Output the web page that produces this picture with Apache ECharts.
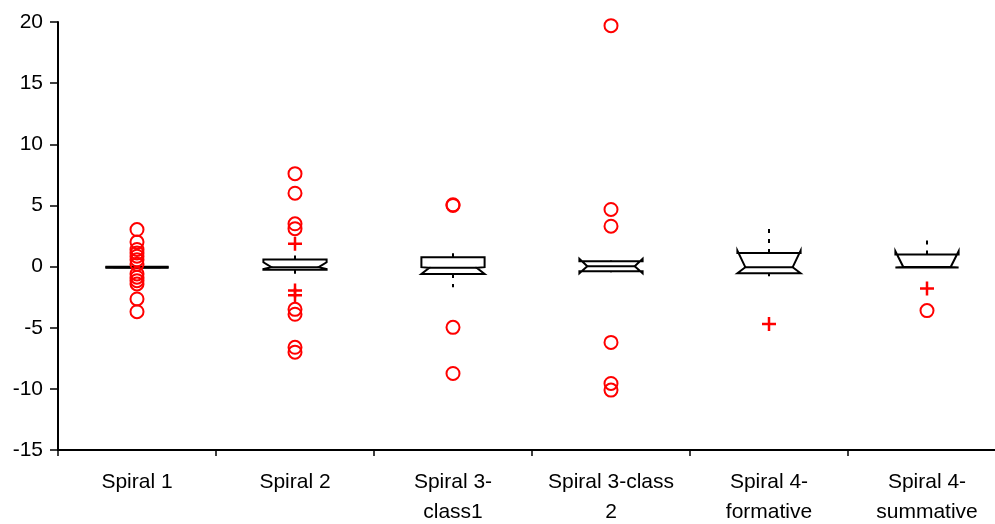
<!DOCTYPE html>
<html>
<head>
<meta charset="utf-8">
<script src="https://cdn.jsdelivr.net/npm/echarts@6/dist/echarts.min.js"></script>
<style>html,body{margin:0;padding:0;background:#fff;}#c{width:995px;height:524px;}</style>
</head>
<body>
<div id="c"></div>
<script>
const categories = ['Spiral 1', 'Spiral 2', 'Spiral 3-\nclass1', 'Spiral 3-class\n2', 'Spiral 4-\nformative', 'Spiral 4-\nsummative'];
const yTicks = [-15, -10, -5, 0, 5, 10, 15, 20];

const whiskerLow  = [-0.05, -0.8, -1.7, -0.47, -0.8, -0.08];
const q1          = [-0.05, -0.25, -0.6, -0.38, -0.55, -0.08];
const notchLow    = [-0.05, -0.2, -0.6, -0.55, -0.55, -0.08];
const median      = [-0.05, -0.05, -0.1, 0.02, -0.05, -0.03];
const notchHigh   = [-0.05, 0.35, -0.05, 0.63, 1.3, 1.25];
const q3          = [-0.05, 0.57, 0.77, 0.43, 1.12, 0.98];
const whiskerHigh = [-0.05, 1.05, 1.1, 0.5, 3.35, 2.25];

const farOutliers = [
  [3.03, 2.0, 1.4, 1.12, 0.85, 0.55, 0.2, -0.6, -0.87, -1.15, -1.42, -2.65, -3.69],
  [7.6, 6.0, 3.5, 3.1, -3.5, -3.9, -6.6, -7.0],
  [5.05, 5.0, -4.97, -8.74],
  [19.7, 4.67, 3.3, -6.2, -9.56, -10.1],
  [],
  [-3.6]
];
const nearOutliers = [
  [],
  [1.86, -1.95, -2.35],
  [],
  [],
  [-4.7],
  [-1.8]
];

const boxData = categories.map((c, i) => [i, whiskerLow[i], q1[i], notchLow[i], median[i], notchHigh[i], q3[i], whiskerHigh[i]]);
const farData = [];
farOutliers.forEach((arr, i) => arr.forEach(v => farData.push([i, v])));
const nearData = [];
nearOutliers.forEach((arr, i) => arr.forEach(v => nearData.push([i, v])));

function renderBox(params, api) {
  const i = api.value(0);
  const wl = api.value(1), b1 = api.value(2), nl = api.value(3), md = api.value(4),
        nh = api.value(5), b3 = api.value(6), wh = api.value(7);
  const cx = api.coord([i, md])[0];
  const half = api.size([1, 0])[0] * 0.2;
  const inset = half * 0.25;
  const y = v => api.coord([i, v])[1];
  const L = cx - half, R = cx + half, Ln = L + inset, Rn = R - inset;
  const pts = [
    [L, y(b3)], [R, y(b3)], [R, y(nh)], [Rn, y(md)], [R, y(nl)], [R, y(b1)],
    [L, y(b1)], [L, y(nl)], [Ln, y(md)], [L, y(nh)]
  ];
  const dash = { stroke: '#000', lineWidth: 2, lineDash: [4, 6] };
  const children = [];
  if (wh > b3) children.push({ type: 'line', shape: { x1: cx, y1: y(b3), x2: cx, y2: y(wh) }, style: dash });
  if (wl < b1) children.push({ type: 'line', shape: { x1: cx, y1: y(b1), x2: cx, y2: y(wl) }, style: dash });
  children.push({ type: 'polygon', shape: { points: pts }, style: { fill: 'none', stroke: '#000', lineWidth: 2, lineJoin: 'miter' } });
  children.push({ type: 'line', shape: { x1: Ln, y1: y(md), x2: Rn, y2: y(md) }, style: { stroke: '#000', lineWidth: 2 } });
  if (b3 - b1 < 0.01) {
    children.push({ type: 'line', shape: { x1: L, y1: y(md), x2: R, y2: y(md) }, style: { stroke: '#000', lineWidth: 3 } });
  }
  return { type: 'group', children };
}

const chart = echarts.init(document.getElementById('c'), null, { renderer: 'canvas' });
chart.setOption({
  animation: false,
  backgroundColor: '#fff',
  grid: { left: 58, top: 22, width: 948, height: 428, containLabel: false, outerBoundsMode: 'none' },
  xAxis: {
    type: 'category',
    data: categories,
    boundaryGap: true,
    axisLine: { onZero: false, lineStyle: { color: '#000', width: 2 } },
    axisTick: { show: true, length: 6, lineStyle: { color: '#000', width: 1.5 } },
    axisLabel: { color: '#000', fontSize: 21, fontFamily: 'Liberation Sans, Arial, sans-serif', lineHeight: 30, margin: 17, interval: 0 },
    splitLine: { show: false }
  },
  yAxis: {
    type: 'value',
    min: -15, max: 20, interval: 5,
    axisLine: { show: true, lineStyle: { color: '#000', width: 2 } },
    axisTick: { show: true, length: 8, lineStyle: { color: '#000', width: 1.5 } },
    axisLabel: { color: '#000', fontSize: 21, fontFamily: 'Liberation Sans, Arial, sans-serif', margin: 15,
      formatter: v => yTicks.indexOf(v) >= 0 ? String(v) : '' },
    splitLine: { show: false }
  },
  series: [
    { type: 'custom', renderItem: renderBox, data: boxData, z: 2, encode: { x: 0, y: [1, 2, 3, 4, 5, 6, 7] } },
    { type: 'scatter', data: farData, symbol: 'circle', symbolSize: 13, z: 3,
      itemStyle: { color: 'rgba(0,0,0,0)', borderColor: '#FF0000', borderWidth: 2, opacity: 1 } },
    { type: 'scatter', data: nearData, symbol: 'path://M0,-1L0,1M-1,0L1,0', symbolSize: 14, z: 3,
      itemStyle: { color: 'rgba(0,0,0,0)', borderColor: '#FF0000', borderWidth: 2.5, opacity: 1 } }
  ]
});
</script>
</body>
</html>
